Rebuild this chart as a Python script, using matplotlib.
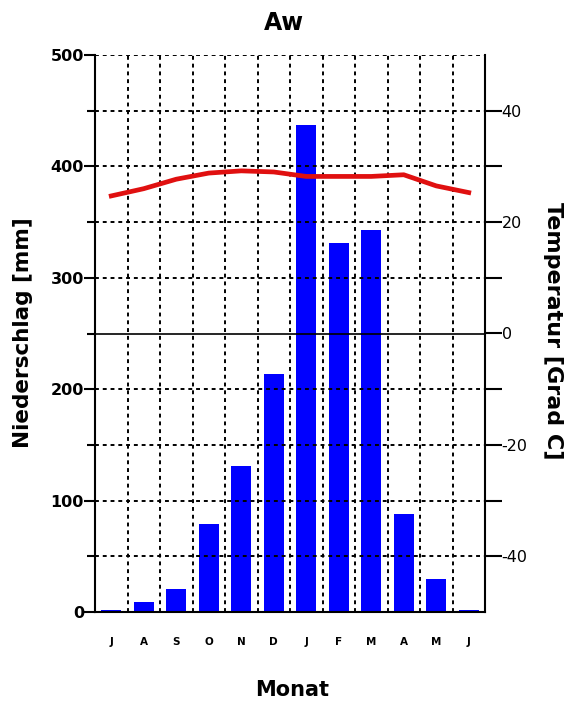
import matplotlib
matplotlib.use("Agg")
import matplotlib.pyplot as plt
import numpy as np

months = ["J", "A", "S", "O", "N", "D", "J", "F", "M", "A", "M", "J"]
precip = [2, 9, 21, 79, 131, 214, 437, 331, 343, 88, 30, 2]
temp = [24.7, 26.0, 27.7, 28.8, 29.2, 29.0, 28.2, 28.2, 28.2, 28.5, 26.5, 25.3]
left_ticks = [0, 100, 200, 300, 400, 500]
right_ticks = [-40, -20, 0, 20, 40]

plt.rcParams['font.family'] = ['DejaVu Sans']

W, H = 568, 704
fig = plt.figure(figsize=(W/100, H/100), dpi=100)
ax = fig.add_axes([95/W, 1-612/H, 390/W, 557/H])
x = np.arange(len(months))
ax.bar(x, precip, width=0.62, color='#0000ff', zorder=2)
ax.set_xlim(-0.5, 11.5)
ax.set_ylim(0, 500)

# grid
for yv in range(50, 501, 50):
    if yv == 250:
        ax.axhline(yv, color='black', lw=1.2, zorder=3)
    else:
        ax.axhline(yv, color='black', lw=1.4, ls=(0, (2, 2)), zorder=3)
for xv in np.arange(0.5, 11.5, 1):
    ax.axvline(xv, color='black', lw=1.4, ls=(0, (2, 2)), zorder=3)

ax.spines['top'].set_visible(False)
ax.spines['right'].set_visible(False)
for s in ['left', 'bottom']:
    ax.spines[s].set_linewidth(1.5)

ax.set_yticks(left_ticks)
ax.set_yticks(np.arange(50, 500, 100), minor=True)
ax.set_yticklabels([str(t) for t in left_ticks], fontsize=11.5, fontweight='bold')
ax.tick_params(axis='y', which='major', length=8, width=1.5, pad=0)
ax.tick_params(axis='y', which='minor', length=6, width=1.5)
ax.set_xticks(x)
ax.set_xticklabels(months, fontsize=7.5, fontweight='bold')
ax.tick_params(axis='x', length=0, pad=18)

fig.text(23/W, 1-333/H, "Niederschlag [mm]", fontsize=15.5, fontweight='bold',
         rotation=90, ha='center', va='center')
fig.text(553/W, 1-331/H, "Temperatur [Grad C]", fontsize=16, fontweight='bold',
         rotation=-90, ha='center', va='center')
fig.text(292/W, 1-690/H, "Monat", fontsize=15, fontweight='bold', ha='center', va='center')
fig.text(284/W, 1-23/H, "Aw", fontsize=17, fontweight='bold', ha='center', va='center')

ax2 = ax.twinx()
ax2.set_ylim(-50, 50)
ax2.plot(x, temp, color='#e01010', lw=3.4, zorder=4)
for s in ['top', 'left', 'bottom']:
    ax2.spines[s].set_visible(False)
ax2.spines['right'].set_linewidth(1.5)
ax2.set_yticks(right_ticks)
ax2.set_yticks([-30, -10, 10, 30], minor=True)
ax2.set_yticklabels([str(t) for t in right_ticks], fontsize=11.5)
ax2.tick_params(axis='y', which='major', length=12, width=1.5, pad=0)
ax2.tick_params(axis='y', which='minor', length=12, width=1.5)

fig.savefig("out.png", dpi=100)
